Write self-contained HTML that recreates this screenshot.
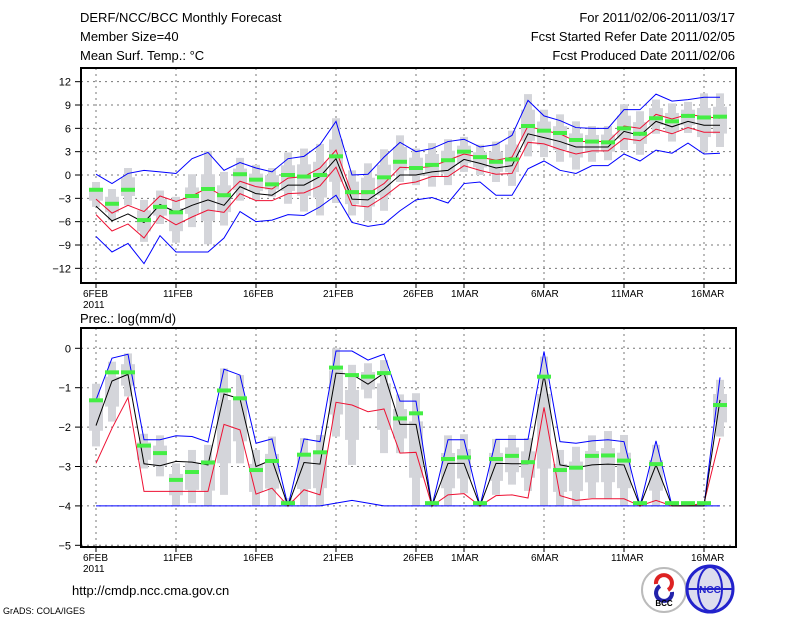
<!DOCTYPE html>
<html><head><meta charset="utf-8"><style>
html,body{margin:0;padding:0;background:#fff;}
svg{display:block;font-family:"Liberation Sans",sans-serif;}
</style></head><body>
<svg id="chart" width="800" height="618" viewBox="0 0 800 618">
<g font-size="13" fill="#000">
<text x="80" y="22">DERF/NCC/BCC Monthly Forecast</text>
<text x="80" y="41">Member Size=40</text>
<text x="80" y="60">Mean Surf. Temp.: °C</text>
<text x="735" y="22" text-anchor="end">For 2011/02/06-2011/03/17</text>
<text x="735" y="41" text-anchor="end">Fcst Started Refer Date 2011/02/05</text>
<text x="735" y="60" text-anchor="end">Fcst Produced Date 2011/02/06</text>
</g>
<text x="80" y="323" font-size="13">Prec.: log(mm/d)</text>
<text x="72" y="595" font-size="13">http://cmdp.ncc.cma.gov.cn</text>
<text x="3" y="614" font-size="9">GrADS: COLA/IGES</text>
<g>
<circle cx="664" cy="590" r="22" fill="#fff" stroke="#bbb" stroke-width="2"/>
<path d="M656 584 a8 8 0 1 1 12 6" fill="none" stroke="#d22" stroke-width="4"/>
<path d="M672 592 a8 8 0 1 1 -12 -6" fill="none" stroke="#22a" stroke-width="4"/>
<text x="664" y="606" font-size="8" text-anchor="middle" font-weight="bold">BCC</text>
</g>
<g>
<circle cx="710" cy="589" r="23" fill="#dde" stroke="#22c" stroke-width="3"/>
<ellipse cx="710" cy="589" rx="12" ry="22" fill="none" stroke="#22c" stroke-width="2"/>
<line x1="688" y1="589" x2="732" y2="589" stroke="#22c" stroke-width="2"/>
<text x="710" y="593" font-size="10" text-anchor="middle" fill="#22c" font-weight="bold">NCC</text>
</g>
<g id="g"></g>
</svg>
<script>
const tBlueHi=[0.1,-1.1,0.2,0.6,0.4,0.2,2.1,2.9,0.6,1.6,0.9,0.4,2.1,2.4,3.9,6.9,0.0,0.1,2.3,4.2,3.0,3.4,4.3,4.6,3.6,3.9,5.1,9.6,7.6,7.0,6.1,6.0,6.0,8.4,8.4,10.4,9.5,9.7,10.0,10.0];
const tRedHi=[-3.1,-4.9,-3.9,-4.7,-2.7,-3.4,-2.7,-1.6,-2.8,-0.8,-1.5,-1.8,-0.4,-0.2,0.9,3.2,-2.4,-2.4,-1.1,1.0,0.9,1.1,1.9,2.7,2.3,1.9,2.3,6.3,5.7,5.3,4.3,4.3,4.3,6.3,6.0,7.8,7.2,7.8,7.5,7.3];
const tMean=[-4.0,-5.9,-5.0,-6.1,-3.8,-4.8,-3.9,-3.2,-3.9,-1.5,-2.4,-2.6,-1.3,-1.3,-0.2,2.1,-3.1,-3.2,-1.8,0.0,0.0,0.4,0.6,2.0,1.5,0.9,1.2,5.3,4.8,4.3,3.6,3.6,3.6,5.6,5.1,6.9,6.2,6.9,6.4,6.4];
const tRedLo=[-5.1,-7.2,-6.3,-8.1,-5.2,-6.4,-5.4,-4.5,-4.8,-2.4,-3.3,-3.3,-2.4,-2.3,-1.4,1.0,-3.9,-4.1,-2.8,-1.2,-0.9,-0.2,-0.2,1.2,0.6,0.1,0.2,4.2,4.0,3.3,2.7,3.1,3.1,4.7,4.4,5.9,5.3,6.1,5.5,5.5];
const tBlueLo=[-7.9,-9.9,-8.8,-11.4,-7.8,-9.9,-9.9,-9.9,-8.1,-4.7,-6.0,-5.8,-5.1,-5.2,-4.1,-2.6,-6.1,-6.6,-6.3,-4.6,-3.2,-2.9,-3.6,-1.1,-0.9,-2.6,-2.6,0.8,1.8,0.6,0.2,1.2,1.2,2.7,1.8,3.2,2.8,4.1,2.7,2.8];
const tObs=[-1.9,-3.7,-1.9,-5.8,-4.1,-4.8,-2.7,-1.8,-2.6,0.1,-0.6,-1.2,0.0,-0.2,0.0,2.4,-2.2,-2.2,-0.3,1.7,0.9,1.3,1.9,3.0,2.3,1.7,2.0,6.3,5.7,5.4,4.5,4.3,4.2,6.0,5.3,7.3,6.9,7.6,7.4,7.5];
const tBoxHi=[-0.9,-1.8,0.9,-3.2,-2.0,-2.8,0.1,3.1,0.4,2.2,1.3,0.9,2.9,3.4,4.0,7.3,0.6,1.5,3.3,5.1,3.4,4.1,4.6,4.9,3.9,4.3,5.7,10.4,8.4,7.8,6.9,6.3,6.3,9.1,8.2,9.7,9.2,9.4,10.5,10.5];
const tBoxLo=[-4.1,-5.8,-3.9,-8.6,-6.3,-8.7,-6.7,-8.9,-6.5,-3.3,-3.2,-2.8,-3.7,-4.7,-5.2,-3.6,-5.2,-5.9,-4.6,-0.9,-1.3,-1.5,-1.3,0.4,0.0,-0.9,-1.4,2.4,2.3,1.7,0.7,1.7,1.9,3.2,2.6,5.3,4.3,5.4,3.0,3.6];
const pBlueHi=[-1.31,-0.25,-0.15,-2.32,-2.32,-2.22,-2.24,-2.38,-0.53,-0.68,-2.41,-2.3,-4,-2.3,-2.37,-0.07,-0.07,-0.3,-0.15,-1.34,-1.34,-4,-2.32,-2.32,-4,-2.31,-2.31,-2.31,-0.08,-2.37,-2.41,-2.35,-2.32,-2.37,-4,-2.35,-4,-4,-4,-0.74];
const pMean=[-1.96,-0.83,-0.66,-2.93,-2.98,-2.87,-2.89,-2.96,-1.16,-1.28,-3.0,-2.83,-4,-2.9,-2.94,-0.63,-0.66,-0.91,-0.63,-1.93,-1.93,-4,-2.92,-2.92,-4,-2.92,-2.93,-2.93,-0.68,-2.96,-3.03,-2.96,-2.94,-2.96,-4,-2.96,-4,-4,-4,-1.31];
const pRed=[-2.92,-2.03,-1.25,-3.63,-3.63,-3.63,-3.63,-3.63,-1.93,-2.07,-3.7,-3.55,-4,-3.59,-3.72,-1.37,-1.44,-1.61,-1.54,-2.66,-2.64,-4,-3.72,-3.69,-4,-3.74,-3.72,-3.8,-1.5,-3.74,-3.86,-3.82,-3.82,-3.82,-4,-3.86,-4,-4,-3.93,-2.28];
const pBlueLo=[-4,-4,-4,-4,-4,-4,-4,-4,-4,-4,-4,-4,-4,-4,-4,-3.93,-3.86,-3.93,-4,-4,-4,-4,-4,-4,-4,-4,-4,-4,-4,-4,-4,-4,-4,-4,-4,-4,-4,-4,-4,-4];
const pObs=[-1.32,-0.61,-0.61,-2.47,-2.66,-3.34,-3.14,-2.9,-1.07,-1.27,-3.09,-2.86,-3.93,-2.7,-2.64,-0.49,-0.68,-0.72,-0.63,-1.78,-1.65,-3.93,-2.81,-2.77,-3.93,-2.81,-2.73,-2.89,-0.72,-3.09,-3.03,-2.73,-2.72,-2.85,-3.93,-2.94,-3.93,-3.93,-3.93,-1.44];
const pBoxHi=[-0.9,-0.34,-0.13,-2.17,-2.21,-2.92,-2.58,-2.45,-0.51,-0.68,-2.58,-2.24,-3.8,-2.28,-2.2,0,-0.42,-0.38,-0.3,-1.17,-1.14,-4,-2.21,-2.18,-4,-2.3,-2.2,-2.28,-0.21,-2.58,-2.5,-2.21,-2.1,-2.2,-4,-2.45,-4,-4,-4,-0.8];
const pBoxLo=[-2.49,-1.86,-1.22,-3.05,-3.25,-4,-3.93,-4,-3.72,-2.92,-4,-4,-4,-4,-4,-2.24,-2.96,-1.27,-2.66,-2.66,-4,-4,-4,-3.68,-4,-3.72,-3.46,-3.62,-4,-4,-4,-3.8,-3.83,-4,-4,-4,-4,-4,-4,-2.24];
const tTicks=[12,9,6,3,0,-3,-6,-9,-12];
const pTicks=[0,-1,-2,-3,-4,-5];
const dateDays=[0,5,10,15,20,23,28,33,38];
const dateLabels=["6FEB","11FEB","16FEB","21FEB","26FEB","1MAR","6MAR","11MAR","16MAR"];

const NS="http://www.w3.org/2000/svg";
const G=document.getElementById('g');
const X0=81,X1=736;
const xOf=d=>96+16*d;
const yT=v=>175-v*(23.33/3);
const yP=v=>348.3-v*39.4;
function mk(tag,attrs,parent){const e=document.createElementNS(NS,tag);for(const k in attrs)e.setAttribute(k,attrs[k]);(parent||G).appendChild(e);return e;}

function panel(name,top,bot,ticks,yf,boxHi,boxLo,obs,lines){
  const g=mk('g',{});
  
  
  ticks.forEach(t=>{
    const y=yf(t);
    const l=mk('line',{x1:X0,x2:X1,y1:y,y2:y,stroke:'#777','stroke-dasharray':'2,4'},g);
    
    
    const tx=mk('text',{x:71,y:y+4,'font-size':11,'text-anchor':'end'},g);
    tx.textContent=(t<0?'\u2212'+(-t):String(t));
    
    
    mk('line',{x1:75,x2:X0,y1:y,y2:y,stroke:'#000'},g);
  });
  dateDays.forEach((d,i)=>{
    const x=xOf(d);
    const l=mk('line',{x1:x,x2:x,y1:top,y2:bot,stroke:'#777','stroke-dasharray':'2,4'},g);
    
    
    mk('line',{x1:x,x2:x,y1:bot,y2:bot+5,stroke:'#000'},g);
    const tx=mk('text',{x:x-13,y:bot+14,'font-size':10},g);
    tx.textContent=dateLabels[i];
    
    
  });
  const yr=mk('text',{x:83,y:bot+25,'font-size':10},g);
  yr.textContent='2011';
  
  
  boxHi.forEach((h,i)=>{
    const lo=boxLo[i];const x=xOf(i);
    const yh=yf(h),yl=yf(lo);
    const r=mk('rect',{x:x-4,y:yh,width:8,height:Math.max(0,yl-yh),fill:'#d4d5da'},g);
    
    
    const q=(lo-h)*0.25;
    const yh2=yf(h+q),yl2=yf(lo-q);
    mk('rect',{x:x-7,y:yh2,width:14,height:Math.max(0,yl2-yh2),fill:'#d4d5da'},g);
  });
  lines.forEach(([arr,col,nm])=>{
    const p=mk('polyline',{points:arr.map((v,i)=>xOf(i)+','+yf(v)).join(' '),fill:'none',stroke:col,'stroke-width':1},g);
    
    
  });
  obs.forEach((v,i)=>{
    const r=mk('rect',{x:xOf(i)-7,y:yf(v)-2,width:14,height:4,fill:'#44ee44'},g);
    
    
  });
  const f=mk('rect',{x:X0,y:top,width:X1-X0,height:bot-top,fill:'none',stroke:'#000','stroke-width':2},g);
  
  
}
panel('temperature-panel',68,283,tTicks,yT,tBoxHi,tBoxLo,tObs,[
  [tBlueHi,'#0000ff','blue-upper-line'],[tBlueLo,'#0000ff','blue-lower-line'],
  [tRedHi,'#ee1133','red-upper-line'],[tRedLo,'#ee1133','red-lower-line'],[tMean,'#000','ensemble-mean-line']]);
panel('precip-panel',328,547,pTicks,yP,pBoxHi,pBoxLo,pObs,[
  [pBlueHi,'#0000ff','blue-upper-line'],[pBlueLo,'#0000ff','blue-lower-line'],
  [pRed,'#ee1133','red-lower-line'],[pMean,'#000','ensemble-mean-line']]);
</script>
</body></html>
